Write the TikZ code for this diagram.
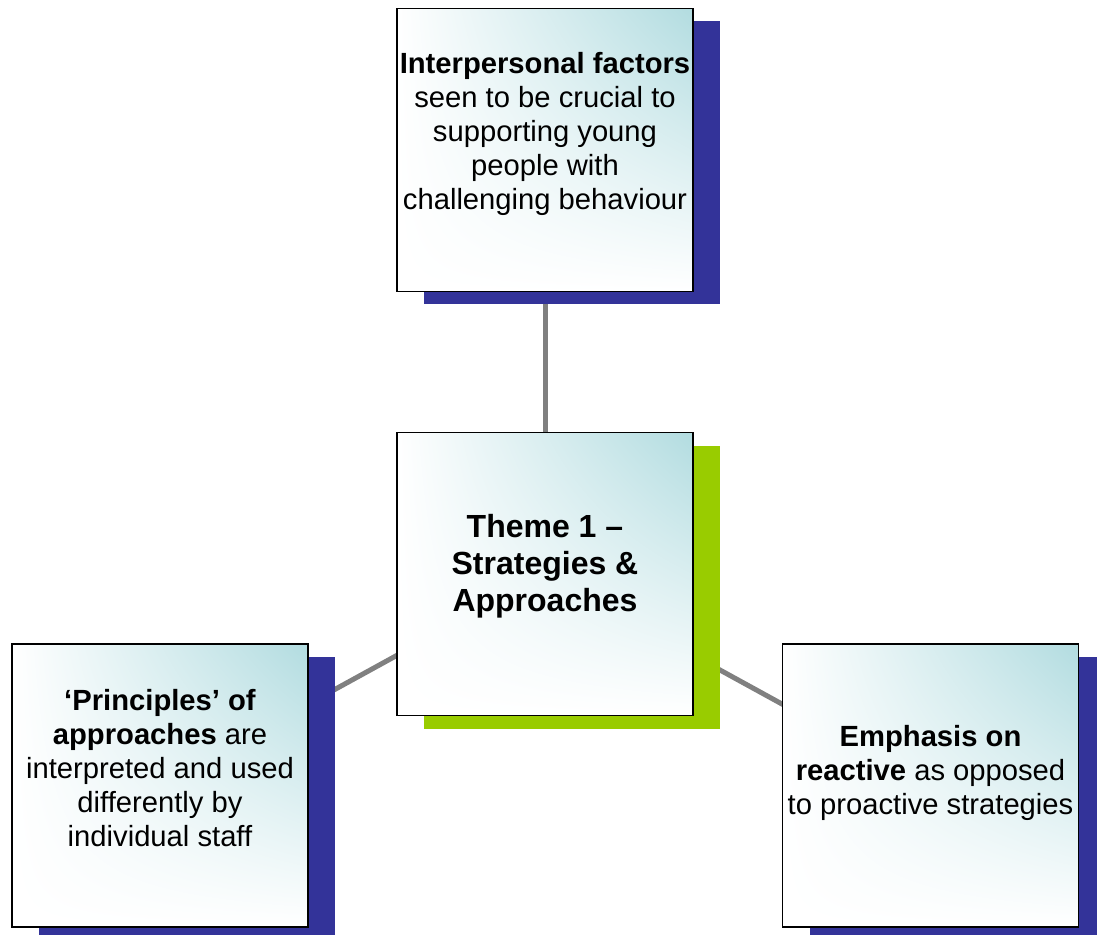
\documentclass[tikz,border=0pt]{standalone}
\usepackage{fontspec}
\setmainfont{Liberation Sans}
\usetikzlibrary{shadows, shadings, backgrounds}

\definecolor{boxteal}{RGB}{178,220,224}
\definecolor{shadowblue}{RGB}{51,51,153}
\definecolor{shadowgreen}{RGB}{153,204,0}
\definecolor{linkgrey}{RGB}{128,128,128}

\begin{document}
\begin{tikzpicture}[x=0.5pt, y=-0.5pt,
    box/.style={draw=black, line width=0.8pt, minimum width=148pt, minimum height=141.5pt,
        inner sep=0pt, shade, shading=bilinear interpolation,
        upper right=boxteal, upper left=white, lower left=white, lower right=white},
    blueshadow/.style={drop shadow={shadow xshift=13.5pt, shadow yshift=-6.5pt, fill=shadowblue, opacity=1}},
    greenshadow/.style={drop shadow={shadow xshift=13.5pt, shadow yshift=-6.5pt, fill=shadowgreen, opacity=1}},
    boxtext/.style={align=center, inner sep=0pt, font=\fontsize{14.6}{17}\selectfont},
    link/.style={draw=linkgrey, line width=2.5pt}]
    \useasboundingbox (0,0) rectangle (1097,935);

    % Boxes with their offset shadows
    \node[box, blueshadow] (top) at (545,150) {};
    \node[box, greenshadow] (theme) at (545,574) {};
    \node[box, blueshadow] (left) at (160,785.5) {};
    \node[box, blueshadow] (right) at (930.5,785.5) {};

    % Texts, sitting a little above the middle of each box
    \node[boxtext] (topText) at (545,134) {\textbf{Interpersonal factors}\\ seen to be crucial to\\ supporting young\\ people with\\ challenging behaviour};
    \node[boxtext, font=\fontsize{16}{18.5}\selectfont\bfseries] (themeText) at (545,566) {Theme 1 –\\ Strategies \&\\ Approaches};
    \node[boxtext] (leftText) at (160,768) {\textbf{‘Principles’ of}\\ \textbf{approaches} are\\ interpreted and used\\ differently by\\ individual staff};
    \node[boxtext] (rightText) at (930.5,773) {\textbf{Emphasis on}\\ \textbf{reactive} as opposed\\ to proactive strategies};

    % Grey links run centre to centre, behind the boxes
    \begin{scope}[on background layer]
        \draw[link] (theme.center) -- (top.center);
        \draw[link] (theme.center) -- (left.center);
        \draw[link] (theme.center) -- (right.center);
    \end{scope}
\end{tikzpicture}
\end{document}
